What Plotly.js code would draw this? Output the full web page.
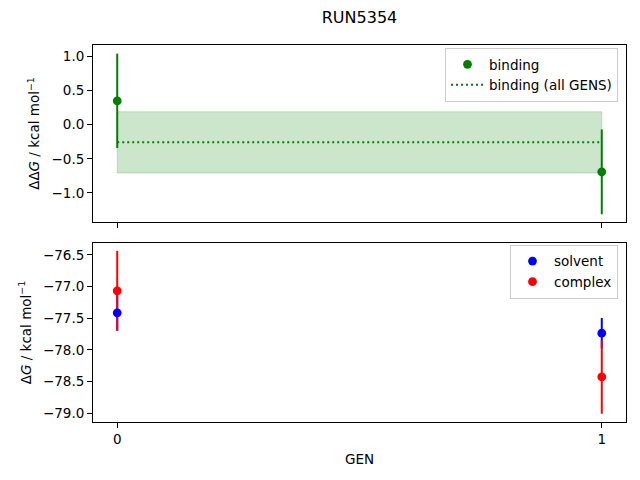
<!DOCTYPE html>
<html>
<head>
<meta charset="utf-8">
<script src="https://cdn.plot.ly/plotly-3.0.1.min.js"></script>
<style>html,body{margin:0;padding:0;background:#fff;}#chart{width:640px;height:480px;}</style>
</head>
<body>
<div id="chart"></div>
<script>
// ---- data ----
const gens = [0, 1];
const bindingVals = [0.347, -0.691];
const bindingErr = [0.69, 0.62];
const bindingAll = -0.26;
const bindingAllErr = 0.447;
const solventVals = [-77.415, -77.736];
const solventErr = [0.28, 0.24];
const complexVals = [-77.068, -78.427];
const complexErr = [0.63, 0.58];
const xTickVals = [0, 1];
const xTickText = ['0', '1'];

const FONT = 'DejaVu Sans, sans-serif';
const GREEN = 'rgb(0,128,0)';
const BLUE = 'rgb(0,0,255)';
const RED = 'rgb(255,0,0)';
const MS = 8.8;

const x0 = gens[0], x1 = gens[gens.length - 1];

const traces = [
  // band for binding (all GENS)
  {x: [x0, x1, x1, x0, x0],
   y: [bindingAll + bindingAllErr, bindingAll + bindingAllErr, bindingAll - bindingAllErr, bindingAll - bindingAllErr, bindingAll + bindingAllErr],
   xaxis: 'x2', yaxis: 'y2', mode: 'lines', fill: 'toself',
   fillcolor: 'rgba(0,128,0,0.2)', line: {color: 'rgba(0,128,0,0.2)', width: 1},
   showlegend: false, hoverinfo: 'skip'},
  // binding error bars
  {x: gens, y: bindingVals, xaxis: 'x2', yaxis: 'y2', mode: 'markers',
   marker: {size: 1, opacity: 0, color: GREEN},
   error_y: {type: 'data', array: bindingErr, visible: true, color: GREEN, thickness: 2, width: 0},
   showlegend: false, hoverinfo: 'skip'},
  // binding points
  {x: gens, y: bindingVals, xaxis: 'x2', yaxis: 'y2', mode: 'markers', name: 'binding',
   marker: {size: MS, color: GREEN}, legend: 'legend'},
  // binding all line
  {x: [x0, x1], y: [bindingAll, bindingAll], xaxis: 'x2', yaxis: 'y2', mode: 'lines',
   name: 'binding (all GENS)', line: {color: GREEN, width: 2, dash: '2px,3px'}, legend: 'legend'},

  // bottom panel error bars
  {x: gens, y: solventVals, xaxis: 'x', yaxis: 'y', mode: 'markers',
   marker: {size: 1, opacity: 0, color: BLUE},
   error_y: {type: 'data', array: solventErr, visible: true, color: BLUE, thickness: 2, width: 0},
   showlegend: false, hoverinfo: 'skip'},
  {x: gens, y: complexVals, xaxis: 'x', yaxis: 'y', mode: 'markers',
   marker: {size: 1, opacity: 0, color: RED},
   error_y: {type: 'data', array: complexErr, visible: true, color: RED, thickness: 2, width: 0},
   showlegend: false, hoverinfo: 'skip'},
  {x: gens, y: solventVals, xaxis: 'x', yaxis: 'y', mode: 'markers', name: 'solvent',
   marker: {size: MS, color: BLUE}, legend: 'legend2'},
  {x: gens, y: complexVals, xaxis: 'x', yaxis: 'y', mode: 'markers', name: 'complex',
   marker: {size: MS, color: RED}, legend: 'legend2'}
];

const axCommon = {
  showline: true, mirror: true, linecolor: 'black', linewidth: 1,
  ticks: 'outside', ticklen: 5, tickwidth: 1, tickcolor: 'black',
  showgrid: false, zeroline: false,
  tickfont: {family: FONT, size: 13.5, color: 'black'}
};

const legendCommon = {
  bgcolor: 'rgba(255,255,255,0.8)', bordercolor: 'rgb(204,204,204)', borderwidth: 1,
  font: {family: FONT, size: 13.5, color: 'black'},
  xanchor: 'right', yanchor: 'top', x: 0.985,
  tracegroupgap: 0, itemwidth: 33
};

const layout = {
  width: 640, height: 480,
  margin: {l: 93, r: 14, t: 45, b: 58},
  paper_bgcolor: 'white', plot_bgcolor: 'white',
  font: {family: FONT, size: 13.5, color: 'black'},
  title: {text: 'RUN5354', font: {family: FONT, size: 16, color: 'black'},
          x: 0.5, xanchor: 'center', xref: 'paper', y: 1 - 17 / 480, yanchor: 'middle', yref: 'container'},
  xaxis: Object.assign({}, axCommon, {
    domain: [0, 1], anchor: 'y', range: [-0.05, 1.05],
    tickmode: 'array', tickvals: xTickVals, ticktext: xTickText,
    title: {text: 'GEN', font: {family: FONT, size: 13.5, color: 'black'}, standoff: 8}
  }),
  xaxis2: Object.assign({}, axCommon, {
    domain: [0, 1], anchor: 'y2', range: [-0.05, 1.05], matches: 'x',
    tickmode: 'array', tickvals: xTickVals, ticktext: xTickText, showticklabels: false
  }),
  yaxis: Object.assign({}, axCommon, {
    domain: [0, 0.4748], anchor: 'x', range: [-79.137, -76.314],
    dtick: 0.5, tick0: -79, tickformat: '.1f',
    title: {text: 'Δ<i>G</i> / kcal mol<sup>−1</sup>', font: {family: FONT, size: 13.5, color: 'black'}, standoff: 8}
  }),
  yaxis2: Object.assign({}, axCommon, {
    domain: [0.5305, 1], anchor: 'x2', range: [-1.424, 1.163],
    dtick: 0.5, tick0: 0, tickformat: '.1f',
    title: {text: 'ΔΔ<i>G</i> / kcal mol<sup>−1</sup>', font: {family: FONT, size: 13.5, color: 'black'}, standoff: 8}
  }),
  legend: Object.assign({}, legendCommon, {y: 0.992}),
  legend2: Object.assign({}, legendCommon, {y: 0.47}),
  showlegend: true
};

Plotly.newPlot('chart', traces, layout, {staticPlot: true, displayModeBar: false});
</script>
</body>
</html>
